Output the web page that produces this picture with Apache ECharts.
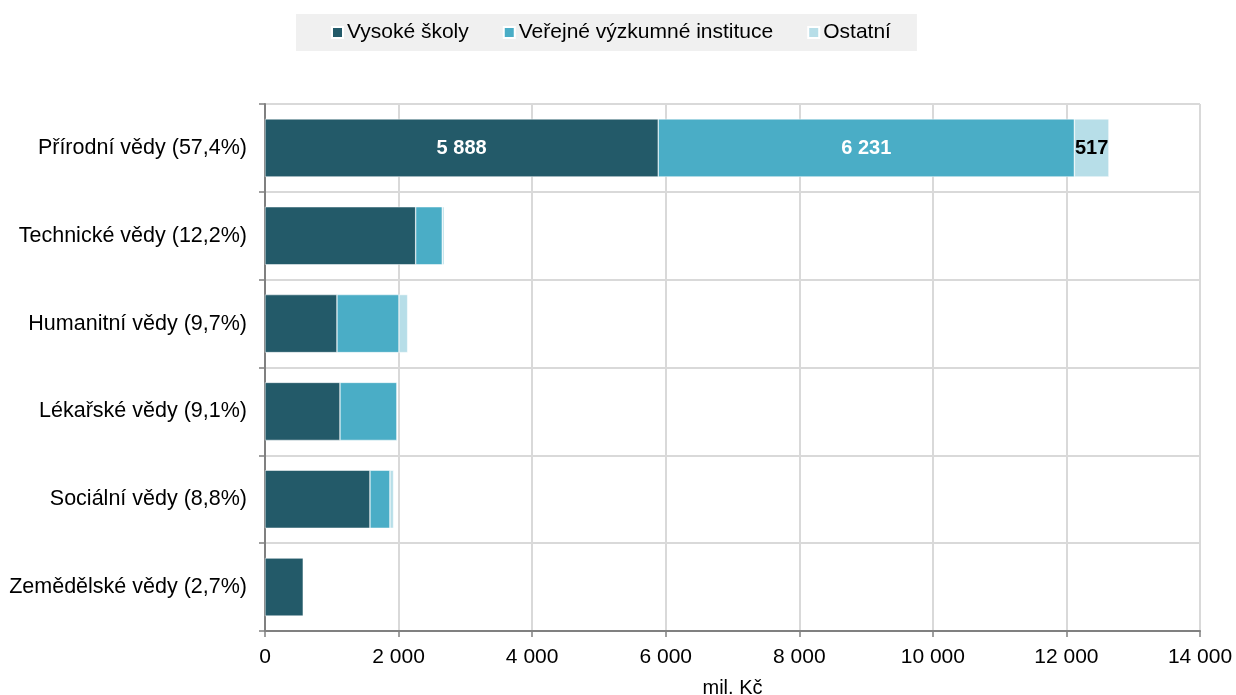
<!DOCTYPE html>
<html>
<head>
<meta charset="utf-8">
<script src="https://cdn.jsdelivr.net/npm/echarts@6/dist/echarts.min.js"></script>
<style>
  html, body { margin: 0; padding: 0; background: #fff; }
  #chart { width: 1236px; height: 695px; }
</style>
</head>
<body>
<div id="chart"></div>
<script>
// obory a hodnoty (mil. Kč)
var categories = ['Přírodní vědy (57,4%)', 'Technické vědy (12,2%)', 'Humanitní vědy (9,7%)',
                  'Lékařské vědy (9,1%)', 'Sociální vědy (8,8%)', 'Zemědělské vědy (2,7%)'];
var vysokeSkoly = [5888, 2256, 1078, 1123, 1572, 573];
var verejneInst = [6231, 398, 928, 853, 299, 5];
var ostatni = [517, 30, 130, 8, 54, 0];
var xTicks = [0, 2000, 4000, 6000, 8000, 10000, 12000, 14000];

function fmt(v) {
    return String(v).replace(/\B(?=(\d{3})+(?!\d))/g, ' ');
}

var dom = document.getElementById('chart');
var myChart = echarts.init(dom);
var font = 'Liberation Sans, Arial, sans-serif';

// popisky jen u prvni kategorie
function labelFirst(color) {
    return {
        show: true,
        position: 'inside',
        color: color,
        fontFamily: font,
        fontSize: 20,
        fontWeight: 'bold',
        offset: [0, 1],
        formatter: function (p) { return p.dataIndex === 0 ? fmt(p.value) : ''; }
    };
}

var option = {
    animation: false,
    legend: {
        top: 14,
        left: 296,
        backgroundColor: '#f0f0f0',
        padding: [8, 26, 8, 35],
        itemWidth: 11,
        itemHeight: 11,
        itemGap: 34,
        icon: 'rect',
        textStyle: { fontFamily: font, fontSize: 21, color: '#000', padding: [0, 0, 0, -1] },
        data: ['Vysoké školy', 'Veřejné výzkumné instituce', 'Ostatní']
    },
    grid: { left: 265, right: 36, top: 104, bottom: 64, containLabel: false, outerBoundsMode: 'none' },
    xAxis: {
        type: 'value',
        min: 0,
        max: 14000,
        interval: 2000,
        name: 'mil. Kč',
        nameLocation: 'middle',
        nameGap: 47,
        nameTextStyle: { fontFamily: font, fontSize: 20, color: '#000' },
        axisLine: { show: true, lineStyle: { color: '#808080', width: 2 } },
        axisTick: { show: true, length: 6, lineStyle: { color: '#808080', width: 1.5 } },
        axisLabel: { fontFamily: font, fontSize: 21, color: '#000', margin: 16,
                     formatter: function (v) { return fmt(v); } },
        splitLine: { show: true, lineStyle: { color: '#d9d9d9', width: 2 } }
    },
    yAxis: {
        type: 'category',
        inverse: true,
        data: categories,
        axisLine: { show: true, lineStyle: { color: '#808080', width: 2 } },
        axisTick: { show: true, length: 6, lineStyle: { color: '#808080', width: 1.5 } },
        axisLabel: { fontFamily: font, fontSize: 21.5, color: '#000', margin: 18 },
        splitLine: { show: true, lineStyle: { color: '#d9d9d9', width: 2 } }
    },
    series: [
        {
            name: 'Vysoké školy',
            type: 'bar',
            stack: 'a',
            barWidth: 58,
            data: vysokeSkoly,
            itemStyle: { color: '#235a69', borderColor: '#ffffff', borderWidth: 0.5 },
            label: labelFirst('#ffffff')
        },
        {
            name: 'Veřejné výzkumné instituce',
            type: 'bar',
            stack: 'a',
            barWidth: 58,
            data: verejneInst,
            itemStyle: { color: '#4aadc6', borderColor: '#ffffff', borderWidth: 0.5 },
            label: labelFirst('#ffffff')
        },
        {
            name: 'Ostatní',
            type: 'bar',
            stack: 'a',
            barWidth: 58,
            data: ostatni,
            itemStyle: { color: '#b7dee8', borderColor: '#ffffff', borderWidth: 0.5 },
            label: labelFirst('#000000')
        }
    ]
};

myChart.setOption(option, true);
window.onresize = function () {
    myChart.resize();
};
</script>
</body>
</html>
